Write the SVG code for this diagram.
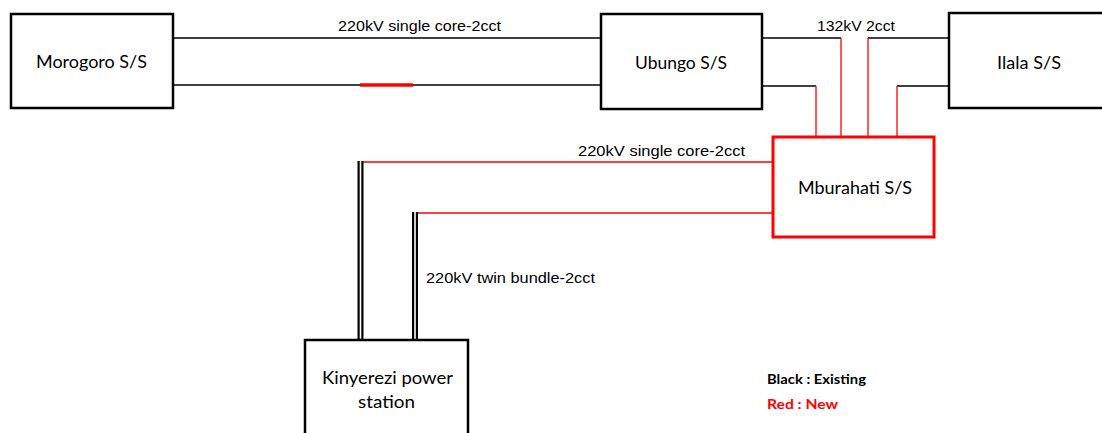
<svg xmlns="http://www.w3.org/2000/svg" width="1102" height="433" viewBox="0 0 1102 433">
<style>
.box{fill:#fff;stroke:#000;stroke-width:2.5}
.newbox{fill:#fff;stroke:#f00;stroke-width:3}
.lbl{font-family:Lato,"Liberation Sans",sans-serif;font-size:17px;fill:#000}
.cap{font-family:"Liberation Sans",Arial,sans-serif;font-size:15px;fill:#000}
.leg{font-family:Lato,"Liberation Sans",sans-serif;font-size:14px;font-weight:bold}
.ex{stroke:#000;stroke-width:1.3;fill:none}
.nw{stroke:#f00;stroke-width:1.3;fill:none}
</style>
<rect width="1102" height="433" fill="#fff"/>
<g id="connectors">
<line class="ex" x1="173" y1="38" x2="601" y2="38"/>
<line class="ex" x1="173" y1="85" x2="601" y2="85"/>
<line x1="360" y1="85" x2="413" y2="85" stroke="#f00" stroke-width="3.5"/>
<polyline class="ex" points="762,38 841,38"/>
<polyline class="ex" points="868,38 949,38"/>
<polyline class="ex" points="762,86 816,86"/>
<polyline class="ex" points="897,86 949,86"/>
<line class="nw" x1="816" y1="86" x2="816" y2="137"/>
<line class="nw" x1="841" y1="38" x2="841" y2="137"/>
<line class="nw" x1="868" y1="38" x2="868" y2="137"/>
<line class="nw" x1="897" y1="86" x2="897" y2="137"/>
<line x1="361" y1="162" x2="773" y2="162" stroke="#f00" stroke-width="1.6"/>
<line x1="414" y1="213" x2="773" y2="213" stroke="#f00" stroke-width="1.6"/>
<line x1="360.5" y1="161" x2="360.5" y2="340" stroke="#000" stroke-width="6"/>
<line x1="360.5" y1="161" x2="360.5" y2="340" stroke="#fff" stroke-width="1.6"/>
<line x1="415" y1="212" x2="415" y2="340" stroke="#000" stroke-width="6"/>
<line x1="415" y1="212" x2="415" y2="340" stroke="#fff" stroke-width="1.6"/>
</g>
<g id="morogoro">
<rect class="box" x="11" y="14" width="162" height="94"/>
<text class="lbl" x="36" y="68" textLength="111" lengthAdjust="spacingAndGlyphs">Morogoro S/S</text>
</g>
<g id="ubungo">
<rect class="box" x="601" y="14" width="161" height="95"/>
<text class="lbl" x="635" y="69" textLength="92" lengthAdjust="spacingAndGlyphs">Ubungo S/S</text>
</g>
<g id="ilala">
<rect class="box" x="949" y="13" width="160" height="95"/>
<text class="lbl" x="997" y="69" textLength="64" lengthAdjust="spacingAndGlyphs">Ilala S/S</text>
</g>
<g id="mburahati">
<rect class="newbox" x="773" y="137" width="161" height="100"/>
<text class="lbl" x="798" y="194" textLength="114" lengthAdjust="spacingAndGlyphs">Mburahati S/S</text>
</g>
<g id="kinyerezi">
<rect class="box" x="305" y="340" width="163" height="110"/>
<text class="lbl" x="322" y="384" textLength="131" lengthAdjust="spacingAndGlyphs">Kinyerezi power</text>
<text class="lbl" x="358" y="408" textLength="57" lengthAdjust="spacingAndGlyphs">station</text>
</g>
<g id="labels">
<text class="cap" x="338" y="31" textLength="163" lengthAdjust="spacingAndGlyphs">220kV single core-2cct</text>
<text class="cap" x="817" y="31" textLength="78" lengthAdjust="spacingAndGlyphs">132kV 2cct</text>
<text class="cap" x="578" y="156" textLength="167" lengthAdjust="spacingAndGlyphs">220kV single core-2cct</text>
<text class="cap" x="426" y="283" textLength="169" lengthAdjust="spacingAndGlyphs">220kV twin bundle-2cct</text>
</g>
<g id="legend">
<text class="leg" x="767" y="384" fill="#000" textLength="99" lengthAdjust="spacingAndGlyphs">Black : Existing</text>
<text class="leg" x="767" y="409" fill="#f00" textLength="71" lengthAdjust="spacingAndGlyphs">Red : New</text>
</g>
</svg>
